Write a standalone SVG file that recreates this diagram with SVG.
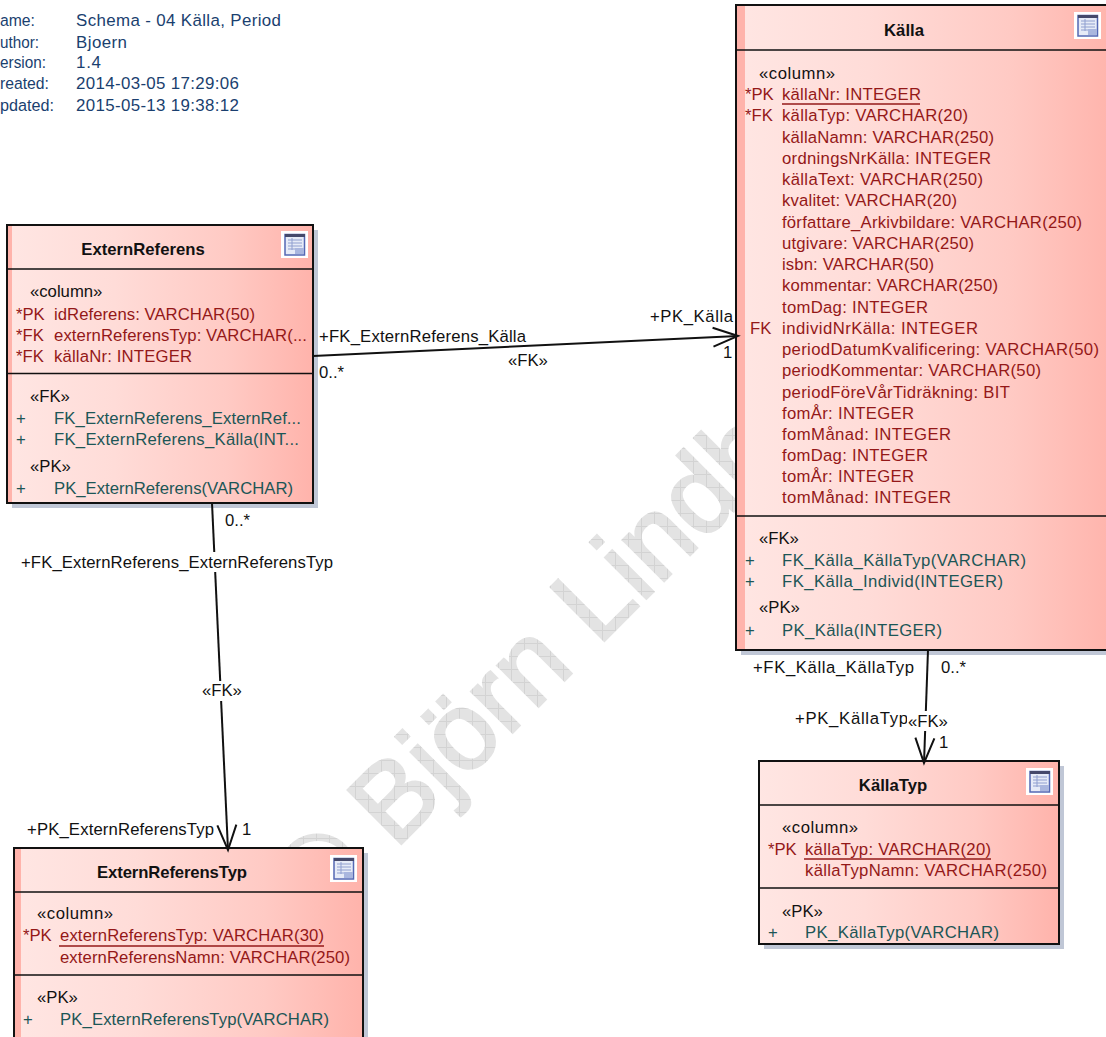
<svg xmlns="http://www.w3.org/2000/svg" xmlns:xlink="http://www.w3.org/1999/xlink" width="1106" height="1037" viewBox="0 0 1106 1037">
<style>
text{font-family:"Liberation Sans",Arial,sans-serif;font-size:16.7px;fill:#111}
.meta{fill:#1a3f6f;font-size:16.9px}
.title{font-weight:bold;text-anchor:middle}
.col{fill:#941818}
.op{fill:#1c5656}
.box{fill:url(#g);stroke:#111;stroke-width:2}
.strip{fill:#ffb3ab}
.sh{fill:#c0c7d6}
.sep{stroke:#111;stroke-width:1.6;fill:none}
.ul{stroke:#941818;stroke-width:1.6;fill:none}
.conn{stroke:#111;stroke-width:2;fill:none}
.lb{fill:#fff}
</style>
<defs>
<linearGradient id="g" x1="0" y1="0" x2="1" y2="0">
<stop offset="0" stop-color="#ffe6e3"/><stop offset="0.35" stop-color="#ffdcd8"/><stop offset="0.72" stop-color="#ffcac4"/><stop offset="1" stop-color="#ffb3ab"/>
</linearGradient>
<pattern id="wm" width="13" height="13" patternUnits="userSpaceOnUse" patternTransform="rotate(45)">
<rect width="13" height="13" fill="#e3e3e3"/><path d="M0 .5H13M.5 0V13" stroke="#d3d3d3" stroke-width="1" fill="none"/>
</pattern>
<symbol id="icon" viewBox="0 0 27 27" width="27" height="27">
<rect width="27" height="27" fill="#fff"/>
<rect x="4" y="3.500" width="19.500" height="20.500" fill="#e6ebf7" stroke="#5468b4" stroke-width="1.500"/>
<rect x="4" y="3" width="20" height="3" fill="#45496b"/>
<path d="M7 9H21M7 12H21M7 15H21M7 18H16" stroke="#8f9fd0" stroke-width="1.200" fill="none"/>
<path d="M11 7V19" stroke="#8f9fd0" stroke-width="1" fill="none"/>
<rect x="14" y="17" width="9" height="6" fill="#a9b6de"/>
</symbol>
<marker id="open" markerUnits="userSpaceOnUse" markerWidth="30" markerHeight="26" refX="26" refY="13" orient="auto"><path d="M1 3.500L26 13L1 22.500" fill="none" stroke="#111" stroke-width="2"/></marker>
</defs>
<rect width="1106" height="1037" fill="#fff"/>
<g id="watermark"><text transform="translate(316 929) rotate(-45)" style="font-size:110px;fill:url(#wm);stroke:url(#wm);stroke-width:2.500px">© Björn Lindh</text></g>
<g id="meta">
<text class="meta" x="0" y="26" textLength="35" lengthAdjust="spacingAndGlyphs">ame:</text><text class="meta" x="76" y="26" textLength="205">Schema - 04 Källa, Period</text>
<text class="meta" x="0" y="48" textLength="39" lengthAdjust="spacingAndGlyphs">uthor:</text><text class="meta" x="76" y="48" textLength="51">Bjoern</text>
<text class="meta" x="0" y="68" textLength="46" lengthAdjust="spacingAndGlyphs">ersion:</text><text class="meta" x="76" y="68" textLength="25">1.4</text>
<text class="meta" x="0" y="89" textLength="49" lengthAdjust="spacingAndGlyphs">reated:</text><text class="meta" x="76" y="89" textLength="163">2014-03-05 17:29:06</text>
<text class="meta" x="0" y="111" textLength="54" lengthAdjust="spacingAndGlyphs">pdated:</text><text class="meta" x="76" y="111" textLength="163">2015-05-13 19:38:12</text>
</g>
<g id="ExternReferens">
<rect class="sh" x="12" y="230" width="306" height="278"/><rect class="box" x="7" y="225" width="306" height="278"/><rect class="strip" x="8" y="226" width="4" height="276"/>
<path class="sep" d="M7 269H313M7 373.500H313"/><use xlink:href="#icon" href="#icon" x="281" y="231"/>
<text class="title" x="143" y="255">ExternReferens</text>
<text x="30" y="297">«column»</text>
<text class="col" x="16" y="320">*PK</text><text class="col" x="54" y="320" textLength="201">idReferens: VARCHAR(50)</text>
<text class="col" x="16" y="341">*FK</text><text class="col" x="54" y="341" textLength="253">externReferensTyp: VARCHAR(...</text>
<text class="col" x="16" y="362">*FK</text><text class="col" x="54" y="362" textLength="138">källaNr: INTEGER</text>
<text x="30" y="402">«FK»</text>
<text class="op" x="16" y="424">+</text><text class="op" x="54" y="424" textLength="247">FK_ExternReferens_ExternRef...</text>
<text class="op" x="16" y="445">+</text><text class="op" x="54" y="445" textLength="245">FK_ExternReferens_Källa(INT...</text>
<text x="30" y="472">«PK»</text>
<text class="op" x="16" y="494">+</text><text class="op" x="54" y="494" textLength="239">PK_ExternReferens(VARCHAR)</text>
</g>
<g id="Kalla">
<rect class="sh" x="741" y="10" width="380" height="645"/><rect class="box" x="736" y="5" width="380" height="645"/><rect class="strip" x="737" y="6" width="8" height="643"/>
<path class="sep" d="M736 50H1106M736 516H1106"/><use xlink:href="#icon" href="#icon" x="1074" y="12"/>
<text class="title" x="904" y="36">Källa</text>
<text x="759" y="79" textLength="76">«column»</text>
<text class="col" x="745" y="100">*PK</text><text class="col" x="782" y="100" textLength="139">källaNr: INTEGER</text><path class="ul" d="M782 104H920"/>
<text class="col" x="745" y="121">*FK</text><text class="col" x="782" y="121" textLength="186">källaTyp: VARCHAR(20)</text>
<text class="col" x="782" y="143" textLength="212">källaNamn: VARCHAR(250)</text>
<text class="col" x="782" y="164" textLength="209">ordningsNrKälla: INTEGER</text>
<text class="col" x="782" y="185" textLength="201">källaText: VARCHAR(250)</text>
<text class="col" x="782" y="206" textLength="175">kvalitet: VARCHAR(20)</text>
<text class="col" x="782" y="228" textLength="300">författare_Arkivbildare: VARCHAR(250)</text>
<text class="col" x="782" y="249" textLength="192">utgivare: VARCHAR(250)</text>
<text class="col" x="782" y="270" textLength="152">isbn: VARCHAR(50)</text>
<text class="col" x="782" y="291" textLength="216">kommentar: VARCHAR(250)</text>
<text class="col" x="782" y="313" textLength="146">tomDag: INTEGER</text>
<text class="col" x="750" y="334">FK</text><text class="col" x="782" y="334" textLength="196">individNrKälla: INTEGER</text>
<text class="col" x="782" y="355" textLength="317">periodDatumKvalificering: VARCHAR(50)</text>
<text class="col" x="782" y="376" textLength="259">periodKommentar: VARCHAR(50)</text>
<text class="col" x="782" y="398" textLength="228">periodFöreVårTidräkning: BIT</text>
<text class="col" x="782" y="419" textLength="132">fomÅr: INTEGER</text>
<text class="col" x="782" y="440" textLength="169">fomMånad: INTEGER</text>
<text class="col" x="782" y="461" textLength="146">fomDag: INTEGER</text>
<text class="col" x="782" y="482" textLength="132">tomÅr: INTEGER</text>
<text class="col" x="782" y="503" textLength="169">tomMånad: INTEGER</text>
<text x="759" y="544">«FK»</text>
<text class="op" x="745" y="566">+</text><text class="op" x="782" y="566" textLength="244">FK_Källa_KällaTyp(VARCHAR)</text>
<text class="op" x="745" y="587">+</text><text class="op" x="782" y="587" textLength="221">FK_Källa_Individ(INTEGER)</text>
<text x="759" y="613">«PK»</text>
<text class="op" x="745" y="636">+</text><text class="op" x="782" y="636" textLength="160">PK_Källa(INTEGER)</text>
</g>
<g id="KallaTyp">
<rect class="sh" x="764" y="766" width="300" height="183"/><rect class="box" x="759" y="761" width="300" height="183"/>
<path class="sep" d="M759 805H1059M759 888H1059"/><use xlink:href="#icon" href="#icon" x="1026" y="768"/>
<text class="title" x="893" y="791">KällaTyp</text>
<text x="782" y="833" textLength="76">«column»</text>
<text class="col" x="768" y="855">*PK</text><text class="col" x="805" y="855" textLength="186">källaTyp: VARCHAR(20)</text><path class="ul" d="M804 859H991"/>
<text class="col" x="805" y="876" textLength="242">källaTypNamn: VARCHAR(250)</text>
<text x="782" y="917">«PK»</text>
<text class="op" x="768" y="938">+</text><text class="op" x="805" y="938" textLength="194">PK_KällaTyp(VARCHAR)</text>
</g>
<g id="ExternReferensTyp">
<rect class="sh" x="19" y="853" width="349" height="200"/><rect class="box" x="14" y="848" width="349" height="200"/><rect class="strip" x="15" y="849" width="6" height="198"/>
<path class="sep" d="M14 892H363M14 975H363"/><use xlink:href="#icon" href="#icon" x="330" y="855"/>
<text class="title" x="172" y="878" textLength="150">ExternReferensTyp</text>
<text x="37" y="919" textLength="76">«column»</text>
<text class="col" x="23" y="941">*PK</text><text class="col" x="60" y="941" textLength="264">externReferensTyp: VARCHAR(30)</text><path class="ul" d="M59 946H324"/>
<text class="col" x="60" y="963" textLength="290">externReferensNamn: VARCHAR(250)</text>
<text x="37" y="1003">«PK»</text>
<text class="op" x="23" y="1025">+</text><text class="op" x="60" y="1025" textLength="269">PK_ExternReferensTyp(VARCHAR)</text>
</g>
<g id="connectors">
<path class="conn" d="M313 356L738 336" marker-end="url(#open)"/>
<path class="conn" d="M212 503L228 850" marker-end="url(#open)"/>
<path class="conn" d="M928 650L924 763" marker-end="url(#open)"/>
</g>
<g id="labels">
<text x="319" y="342" textLength="207">+FK_ExternReferens_Källa</text>
<text x="650" y="322" textLength="83">+PK_Källa</text>
<text x="723" y="358">1</text>
<text x="508" y="366">«FK»</text>
<text x="319" y="378">0..*</text>
<text x="225" y="526">0..*</text>
<rect class="lb" x="20" y="552" width="314" height="20"/><text x="21" y="568" textLength="312">+FK_ExternReferens_ExternReferensTyp</text>
<rect class="lb" x="201" y="681" width="42" height="20"/><text x="202" y="696">«FK»</text>
<text x="27" y="835" textLength="187">+PK_ExternReferensTyp</text>
<text x="242" y="835">1</text>
<text x="753" y="673" textLength="161">+FK_Källa_KällaTyp</text>
<text x="941" y="673">0..*</text>
<text x="795" y="724" textLength="113">+PK_KällaTyp</text>
<rect class="lb" x="907" y="711" width="42" height="20"/><text x="908" y="727">«FK»</text>
<text x="939" y="748">1</text>
</g>
</svg>
